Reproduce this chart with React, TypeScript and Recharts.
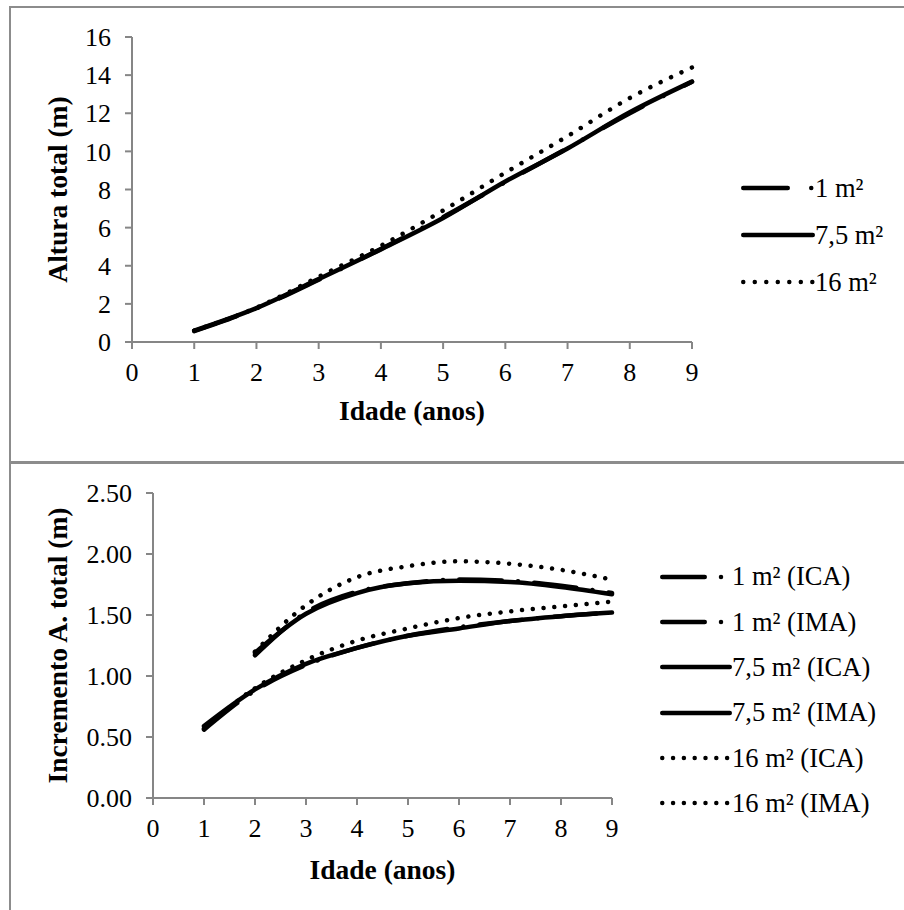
import React from 'react'
import { LineChart, Line, XAxis, YAxis, Legend } from 'recharts'

const FONT = '"Liberation Serif", "Times New Roman", Times, "DejaVu Serif", serif'
const INK = '#000'
const AXIS = '#868686'

// eixos
const ages = [1, 2, 3, 4, 5, 6, 7, 8, 9]
const xTicks = [0, 1, 2, 3, 4, 5, 6, 7, 8, 9]
const alturaTicks = [0, 2, 4, 6, 8, 10, 12, 14, 16]
const incrementoTicks = [0, 0.5, 1, 1.5, 2, 2.5]

// altura total (m) por espaçamento
const altura1 = [0.57, 1.76, 3.27, 4.88, 6.55, 8.38, 10.17, 12.0, 13.65]
const altura75 = [0.6, 1.78, 3.3, 4.86, 6.5, 8.42, 10.15, 12.05, 13.66]
const altura16 = [0.6, 1.8, 3.42, 5.05, 6.9, 8.88, 10.8, 12.8, 14.4]

// incremento corrente anual (ICA) e médio anual (IMA), m
const ica1 = [null, 1.17, 1.52, 1.69, 1.76, 1.79, 1.78, 1.74, 1.68]
const ica75 = [null, 1.19, 1.51, 1.68, 1.76, 1.78, 1.77, 1.73, 1.67]
const ica16 = [null, 1.2, 1.58, 1.81, 1.9, 1.94, 1.92, 1.87, 1.79]
const ima1 = [0.56, 0.88, 1.09, 1.23, 1.33, 1.4, 1.45, 1.49, 1.52]
const ima75 = [0.59, 0.89, 1.1, 1.23, 1.33, 1.39, 1.45, 1.49, 1.52]
const ima16 = [0.57, 0.9, 1.13, 1.29, 1.39, 1.475, 1.53, 1.57, 1.61]

const alturaData = ages.map((age, i) => ({
  age,
  a1: altura1[i],
  a75: altura75[i],
  a16: altura16[i],
}))

const incrementoData = ages.map((age, i) => ({
  age,
  ica1: ica1[i],
  ima1: ima1[i],
  ica75: ica75[i],
  ima75: ima75[i],
  ica16: ica16[i],
  ima16: ima16[i],
}))

const W = 4.5
const dashDotTop = '44.5 23.5 0.01 23.5'
const dashDotBottom = '42.5 16.25 0.01 16.25'
const dotsTop = '0.01 11.5'
const dotsBottom = '0.01 10.8'

const axisLine = { stroke: AXIS, strokeWidth: 2 }
const tickStyle = { fill: INK, fontSize: 26, fontFamily: FONT }

function xTitle(text: string, baseline: number) {
  return (props: any) => {
    const vb = props.viewBox || {}
    return (
      <text
        x={vb.x + vb.width / 2}
        y={baseline}
        textAnchor="middle"
        style={{ fontFamily: FONT, fontWeight: 'bold', fontSize: 27.5 }}
        fill={INK}
      >
        {text}
      </text>
    )
  }
}

function yTitle(text: string, baseline: number) {
  return (props: any) => {
    const vb = props.viewBox || {}
    const cy = vb.y + vb.height / 2
    return (
      <text
        transform={`translate(${baseline},${cy}) rotate(-90)`}
        textAnchor="middle"
        style={{ fontFamily: FONT, fontWeight: 'bold', fontSize: 27.5 }}
        fill={INK}
      >
        {text}
      </text>
    )
  }
}

interface LegendItem {
  label: string
  dash?: string
}

function LegendBox({ items, iconWidth, rowHeight }: { items: LegendItem[]; iconWidth: number; rowHeight: number }) {
  return (
    <div style={{ fontFamily: FONT, fontSize: 26.5, color: INK }}>
      {items.map((it) => (
        <div key={it.label} style={{ display: 'flex', alignItems: 'center', height: rowHeight }}>
          <svg width={iconWidth} height={10} style={{ display: 'block', flex: 'none' }}>
            <line
              x1={W / 2}
              y1={5}
              x2={iconWidth - W / 2}
              y2={5}
              stroke={INK}
              strokeWidth={W}
              strokeLinecap="round"
              strokeDasharray={it.dash}
            />
          </svg>
          <span style={{ whiteSpace: 'nowrap', lineHeight: 1 }}>{it.label}</span>
        </div>
      ))}
    </div>
  )
}

const alturaLegend: LegendItem[] = [
  { label: '1 m²', dash: dashDotTop },
  { label: '7,5 m²' },
  { label: '16 m²', dash: dotsTop },
]

const incrementoLegend: LegendItem[] = [
  { label: '1 m² (ICA)', dash: dashDotBottom },
  { label: '1 m² (IMA)', dash: dashDotBottom },
  { label: '7,5 m² (ICA)' },
  { label: '7,5 m² (IMA)' },
  { label: '16 m² (ICA)', dash: dotsBottom },
  { label: '16 m² (IMA)', dash: dotsBottom },
]

function AlturaChart() {
  return (
    <LineChart width={904} height={462} data={alturaData} margin={{ top: 37, right: 212, bottom: 90, left: 72 }}>
      <XAxis
        dataKey="age"
        type="number"
        domain={[0, 9]}
        ticks={xTicks}
        interval={0}
        height={30}
        axisLine={axisLine}
        tickLine={axisLine}
        tickSize={7}
        tickMargin={14}
        tick={tickStyle}
        label={{ content: xTitle('Idade (anos)', 420) }}
      />
      <YAxis
        type="number"
        domain={[0, 16]}
        ticks={alturaTicks}
        interval={0}
        width={60}
        axisLine={axisLine}
        tickLine={axisLine}
        tickSize={7}
        tickMargin={14}
        tick={tickStyle}
        label={{ content: yTitle('Altura total (m)', 67) }}
      />
      <Legend
        layout="vertical"
        align="center"
        verticalAlign="middle"
        wrapperStyle={{ left: 741, top: 165, width: 160 }}
        content={() => <LegendBox items={alturaLegend} iconWidth={74} rowHeight={46.8} />}
      />
      <Line type="monotone" dataKey="a1" name="1 m²" stroke={INK} strokeWidth={W} strokeLinecap="round" strokeDasharray={dashDotTop} dot={false} activeDot={false} isAnimationActive={false} />
      <Line type="monotone" dataKey="a75" name="7,5 m²" stroke={INK} strokeWidth={W} strokeLinecap="round" dot={false} activeDot={false} isAnimationActive={false} />
      <Line type="monotone" dataKey="a16" name="16 m²" stroke={INK} strokeWidth={W} strokeLinecap="round" strokeDasharray={dotsTop} dot={false} activeDot={false} isAnimationActive={false} />
    </LineChart>
  )
}

function IncrementoChart() {
  return (
    <LineChart width={904} height={448} data={incrementoData} margin={{ top: 31, right: 292, bottom: 82, left: 93 }}>
      <XAxis
        dataKey="age"
        type="number"
        domain={[0, 9]}
        ticks={xTicks}
        interval={0}
        height={30}
        axisLine={axisLine}
        tickLine={axisLine}
        tickSize={7}
        tickMargin={14}
        tick={tickStyle}
        label={{ content: xTitle('Idade (anos)', 417) }}
      />
      <YAxis
        type="number"
        domain={[0, 2.5]}
        ticks={incrementoTicks}
        interval={0}
        width={60}
        axisLine={axisLine}
        tickLine={axisLine}
        tickSize={7}
        tickMargin={14}
        tick={tickStyle}
        tickFormatter={(v: number) => v.toFixed(2)}
        label={{ content: yTitle('Incremento A. total (m)', 67) }}
      />
      <Legend
        layout="vertical"
        align="center"
        verticalAlign="middle"
        wrapperStyle={{ left: 660, top: 92, width: 240 }}
        content={() => <LegendBox items={incrementoLegend} iconWidth={72} rowHeight={45.3} />}
      />
      <Line type="monotone" dataKey="ica1" name="1 m² (ICA)" stroke={INK} strokeWidth={W} strokeLinecap="round" strokeDasharray={dashDotBottom} dot={false} activeDot={false} isAnimationActive={false} />
      <Line type="monotone" dataKey="ima1" name="1 m² (IMA)" stroke={INK} strokeWidth={W} strokeLinecap="round" strokeDasharray={dashDotBottom} dot={false} activeDot={false} isAnimationActive={false} />
      <Line type="monotone" dataKey="ica75" name="7,5 m² (ICA)" stroke={INK} strokeWidth={W} strokeLinecap="round" dot={false} activeDot={false} isAnimationActive={false} />
      <Line type="monotone" dataKey="ima75" name="7,5 m² (IMA)" stroke={INK} strokeWidth={W} strokeLinecap="round" dot={false} activeDot={false} isAnimationActive={false} />
      <Line type="monotone" dataKey="ica16" name="16 m² (ICA)" stroke={INK} strokeWidth={W} strokeLinecap="round" strokeDasharray={dotsBottom} dot={false} activeDot={false} isAnimationActive={false} />
      <Line type="monotone" dataKey="ima16" name="16 m² (IMA)" stroke={INK} strokeWidth={W} strokeLinecap="round" strokeDasharray={dotsBottom} dot={false} activeDot={false} isAnimationActive={false} />
    </LineChart>
  )
}

export default function App() {
  const border = '2px solid #8c8c8c'
  return (
    <div style={{ position: 'absolute', left: 0, top: 0, width: 904, height: 910, overflow: 'hidden', background: '#fff', fontFamily: FONT }}>
      <div style={{ position: 'absolute', left: 9, top: 6, width: 895, height: 457, boxSizing: 'border-box', borderTop: border, borderLeft: border, borderBottom: border }} />
      <div style={{ position: 'absolute', left: 9, top: 463, width: 895, height: 447, boxSizing: 'border-box', borderTop: '1px solid #8c8c8c', borderLeft: border }} />
      <div style={{ position: 'absolute', left: 0, top: 0 }}>
        <AlturaChart />
      </div>
      <div style={{ position: 'absolute', left: 0, top: 462 }}>
        <IncrementoChart />
      </div>
    </div>
  )
}
